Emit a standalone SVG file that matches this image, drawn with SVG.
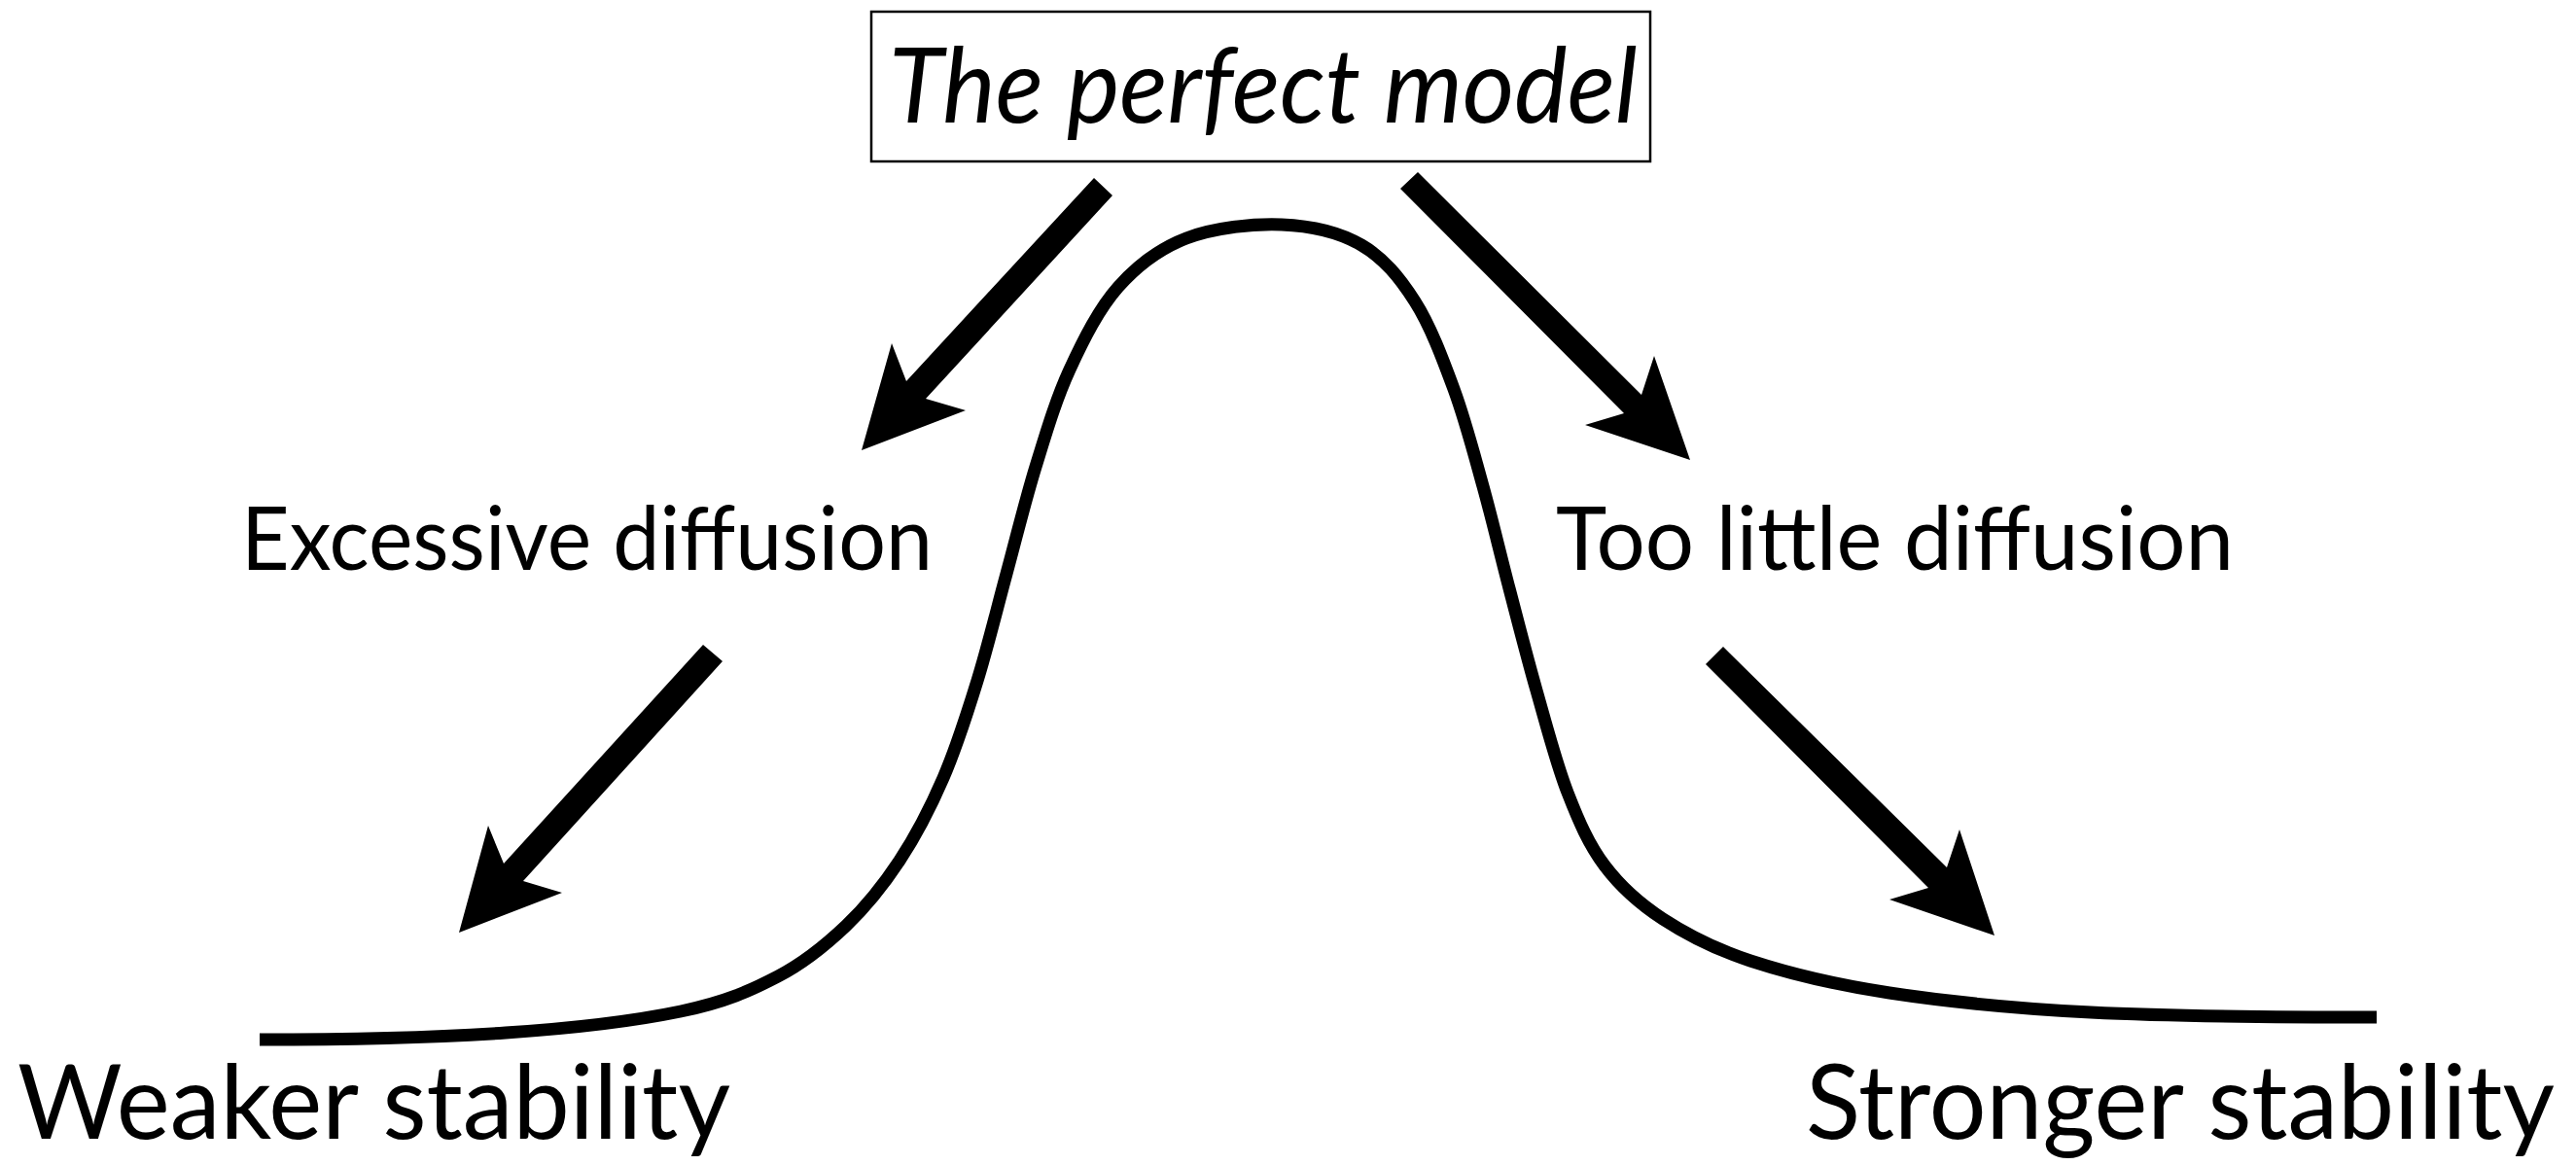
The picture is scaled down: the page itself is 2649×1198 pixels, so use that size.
<svg xmlns="http://www.w3.org/2000/svg" width="2649" height="1198" viewBox="0 0 2649 1198">
<style>
.lbl{font-family:Lato,"Open Sans","Liberation Sans",sans-serif;fill:#000;}
.arrow{fill:#000;stroke:none;}
.curve{fill:none;stroke:#000;stroke-width:13;stroke-linecap:butt;stroke-linejoin:round;}
</style>
<rect width="2649" height="1198" fill="#fff"/>
<g id="curve">
<path class="curve" d="M267,1069 C351,1069 447.8,1066.8 520,1062 C592.2,1057.2 653.3,1049.7 700,1040 C746.7,1030.3 771.7,1018.7 800,1004 C828.3,989.3 849.2,971.8 870,952 C890.8,932.2 908.3,910.3 925,885 C941.7,859.7 956.7,830.8 970,800 C983.3,769.2 994.2,735 1005,700 C1015.8,665 1025,626.7 1035,590 C1045,553.3 1054.2,515 1065,480 C1075.8,445 1085.8,410.8 1100,380 C1114.2,349.2 1130,317.5 1150,295 C1170,272.5 1192,255.7 1220,245 C1248,234.3 1288,229.8 1318,231 C1348,232.2 1377.2,238.8 1400,252 C1422.8,265.2 1439.2,285.3 1455,310 C1470.8,334.7 1483.3,368.3 1495,400 C1506.7,431.7 1515.5,465.8 1525,500 C1534.5,534.2 1542.8,570 1552,605 C1561.2,640 1570,675 1580,710 C1590,745 1600.3,785 1612,815 C1623.7,845 1633.7,868.3 1650,890 C1666.3,911.7 1685,928.7 1710,945 C1735,961.3 1761.2,975.3 1800,988 C1838.8,1000.7 1884.7,1012.2 1943,1021 C2001.3,1029.8 2066.5,1036.8 2150,1041 C2233.5,1045.2 2346,1046 2444,1046"/>
</g>
<g id="node-perfect">
<rect x="896" y="12" width="801" height="154" fill="#fff" stroke="#000" stroke-width="2.5"/>
<text class="lbl" x="914" y="126" font-size="106" font-style="italic" textLength="770" lengthAdjust="spacingAndGlyphs">The perfect model</text>
</g>
<g id="node-excessive">
<text class="lbl" x="248" y="586" font-size="91" textLength="711" lengthAdjust="spacingAndGlyphs">Excessive diffusion</text>
</g>
<g id="node-toolittle">
<text class="lbl" x="1600" y="586" font-size="91" textLength="697" lengthAdjust="spacingAndGlyphs">Too little diffusion</text>
</g>
<g id="node-weaker">
<text class="lbl" x="18" y="1171" font-size="106" textLength="733" lengthAdjust="spacingAndGlyphs">Weaker stability</text>
</g>
<g id="node-stronger">
<text class="lbl" x="1857" y="1171" font-size="106" textLength="770" lengthAdjust="spacingAndGlyphs">Stronger stability</text>
</g>
<g id="connectors">
<polygon class="arrow" points="1125,183 932,392 917,353 886,463 993,422 952,410 1144,201"/>
<polygon class="arrow" points="1458,177 1688,406 1701,366 1738,473 1630,437 1670,425 1440,194"/>
<polygon class="arrow" points="723,663 518,888 502,849 472,959 578,918 538,906 743,680"/>
<polygon class="arrow" points="1772,665 2002,892 2015,853 2051,962 1943,925 1983,913 1754,683"/>
</g>
</svg>
